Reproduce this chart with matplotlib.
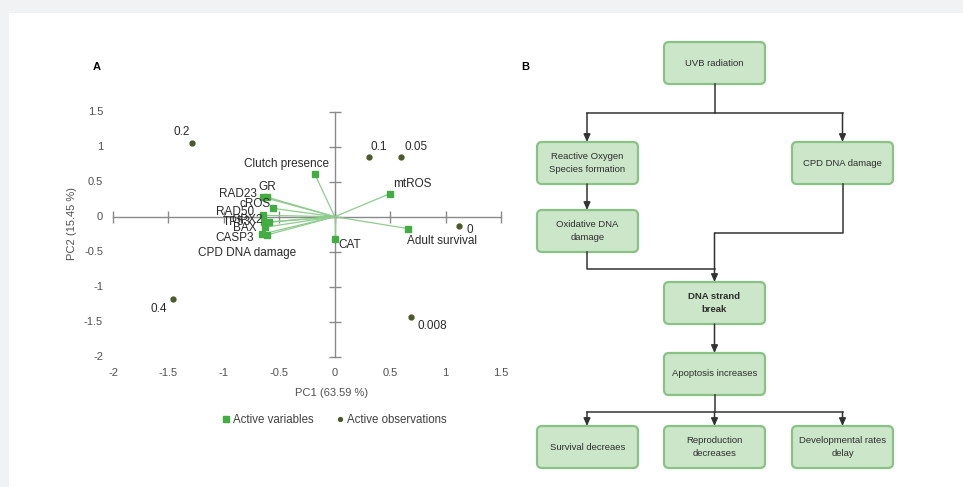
import matplotlib.pyplot as plt
from matplotlib.patches import Rectangle, FancyBboxPatch

plt.rcParams["font.family"] = ["Liberation Sans", "DejaVu Sans"]

# PCA biplot data
var_names = ["Clutch presence", "mtROS", "Adult survival", "CAT", "GR", "RAD23",
             "cROS", "RAD50", "TP53", "GPX2", "BAX", "CASP3", "CPD DNA damage"]
var_x = [-0.18, 0.50, 0.66, 0.00, -0.61, -0.65, -0.56, -0.65, -0.64, -0.59, -0.63, -0.66, -0.61]
var_y = [0.61, 0.33, -0.17, -0.32, 0.28, 0.28, 0.12, 0.02, -0.08, -0.08, -0.15, -0.25, -0.26]

obs_names = ["0.2", "0.1", "0.05", "0", "0.008", "0.4"]
obs_x = [-1.29, 0.31, 0.60, 1.12, 0.69, -1.46]
obs_y = [1.05, 0.85, 0.86, -0.13, -1.43, -1.17]

ticks = [-2, -1.5, -1, -0.5, 0, 0.5, 1, 1.5]
tick_labels = ["-2", "-1.5", "-1", "-0.5", "0", "0.5", "1", "1.5"]

# label offsets in pixels (dx, dy up)
var_off = [(-28, 10), (22, 10), (34, -12), (15, -6), (0, 10), (-25, 3),
           (-18, 4), (-28, 3), (-27, 0), (-22, 2), (-20, -1), (-27, -4), (-20, -18)]
obs_off = [(-10, 11), (10, 10), (15, 10), (11, -4), (21, -9), (-14, -10)]

# flowchart nodes: text, left, top, bold
nodes = [("UVB radiation", 664, 42, False),
         ("Reactive Oxygen\nSpecies formation", 537, 142, False),
         ("CPD DNA damage", 792, 142, False),
         ("Oxidative DNA\ndamage", 537, 210, False),
         ("DNA strand\nbreak", 664, 282, True),
         ("Apoptosis increases", 664, 353, False),
         ("Survival decreaes", 537, 426, False),
         ("Reproduction\ndecreases", 664, 426, False),
         ("Developmental rates\ndelay", 792, 426, False)]

W, H = 963, 487
fig = plt.figure(figsize=(W / 100, H / 100), dpi=100)
fig.patch.set_facecolor("white")
fig.patches.append(Rectangle((0, 1 - 13 / H), 1, 13 / H, transform=fig.transFigure,
                             facecolor="#f1f2f4", edgecolor="none", zorder=-10))
fig.patches.append(Rectangle((0, 0), 9 / W, 1, transform=fig.transFigure,
                             facecolor="#f1f2f4", edgecolor="none", zorder=-10))

# ---- panel A
ax = fig.add_axes([113 / W, 1 - 356.7 / H, 388 / W, 245 / H])
ax.set_xlim(-2, 1.5)
ax.set_ylim(-2, 1.5)
ax.axis("off")
ax.patch.set_alpha(0)
axc = "#8a8a8a"
ax.plot([-2, 1.5], [0, 0], color=axc, lw=1, clip_on=False)
ax.plot([0, 0], [-2, 1.5], color=axc, lw=1, clip_on=False)
for t in ticks:
    ax.plot([t], [0], marker="|", ms=8, mew=1, color=axc, clip_on=False)
    ax.plot([0], [t], marker="_", ms=8, mew=1, color=axc, clip_on=False)
for t, lab in zip(ticks, tick_labels):
    ax.annotate(lab, (t, -2), xytext=(0, -11), textcoords="offset pixels",
                ha="center", va="top", fontsize=8, color="#505050", annotation_clip=False)
    ax.annotate(lab, (-2, t), xytext=(-10, 0), textcoords="offset pixels",
                ha="right", va="center", fontsize=8, color="#505050", annotation_clip=False)

for x, y in zip(var_x, var_y):
    ax.plot([0, x], [0, y], color="#8fcb8f", lw=0.9, zorder=2)
ax.plot(var_x, var_y, "s", color="#43ad43", ms=5, zorder=3, label="Active variables")
ax.plot(obs_x, obs_y, "o", color="#4a5a2a", ms=3.5, zorder=3, label="Active observations")

for name, x, y, (dx, dy) in zip(var_names, var_x, var_y, var_off):
    ax.annotate(name, (x, y), xytext=(dx, dy), textcoords="offset pixels",
                ha="center", va="center", fontsize=8.5, color="#2a2a2a", zorder=4)
for name, x, y, (dx, dy) in zip(obs_names, obs_x, obs_y, obs_off):
    ax.annotate(name, (x, y), xytext=(dx, dy), textcoords="offset pixels",
                ha="center", va="center", fontsize=8.5, color="#2a2a2a", zorder=4)

fig.text(331.7 / W, 1 - 393 / H, "PC1 (63.59 %)", ha="center", va="center",
         fontsize=8, color="#505050")
fig.text(72 / W, 1 - 223 / H, "PC2 (15.45 %)", ha="center", va="center",
         fontsize=8, color="#505050", rotation=90)
fig.text(96.7 / W, 1 - 67 / H, "A", ha="center", va="center", fontsize=8, weight="bold")
fig.text(525 / W, 1 - 67 / H, "B", ha="center", va="center", fontsize=8, weight="bold")

ax.legend(loc="center", bbox_to_anchor=(335 / W, 1 - 420 / H),
          bbox_transform=fig.transFigure, ncol=2, frameon=False, fontsize=8.3,
          handlelength=0.6, handletextpad=0.3, columnspacing=2.0,
          labelcolor="#404040", markerscale=0.8)

# ---- panel B
fx = fig.add_axes([0, 0, 1, 1])
fx.set_xlim(0, W)
fx.set_ylim(H, 0)
fx.axis("off")
fx.patch.set_alpha(0)

bw, bh = 101, 42
for text, left, top, bold in nodes:
    fx.add_patch(FancyBboxPatch((left, top), bw, bh,
                                boxstyle="round,pad=0,rounding_size=5",
                                facecolor="#cce6c9", edgecolor="#88c284", lw=1.6))
    fx.text(left + bw / 2, top + bh / 2, text, ha="center", va="center",
            fontsize=6.8, color="#2e2e2e", linespacing=1.5,
            weight="bold" if bold else "normal")

lc = "#333333"


def seg(xs, ys):
    fx.plot(xs, ys, color=lc, lw=1.1)


def arrow(x, y0, y1):
    fx.annotate("", xy=(x, y1), xytext=(x, y0),
                arrowprops=dict(arrowstyle="-|>,head_length=0.45,head_width=0.2",
                                color=lc, lw=1.1, shrinkA=0, shrinkB=0))


cl, cm, cr = 587, 714.5, 842.5
seg([cm, cm], [84, 113])
seg([cl, cr], [113, 113])
arrow(cl, 113, 142)
arrow(cr, 113, 142)
arrow(cl, 184, 210)
seg([cl, cl, cm], [252, 269, 269])
seg([cr, cr, cm], [184, 233, 233])
arrow(cm, 233, 282)
arrow(cm, 324, 353)
seg([cm, cm], [395, 412])
seg([cl, cr], [412, 412])
arrow(cl, 412, 426)
arrow(cm, 412, 426)
arrow(cr, 412, 426)

fig.savefig("out.png", dpi=100)
